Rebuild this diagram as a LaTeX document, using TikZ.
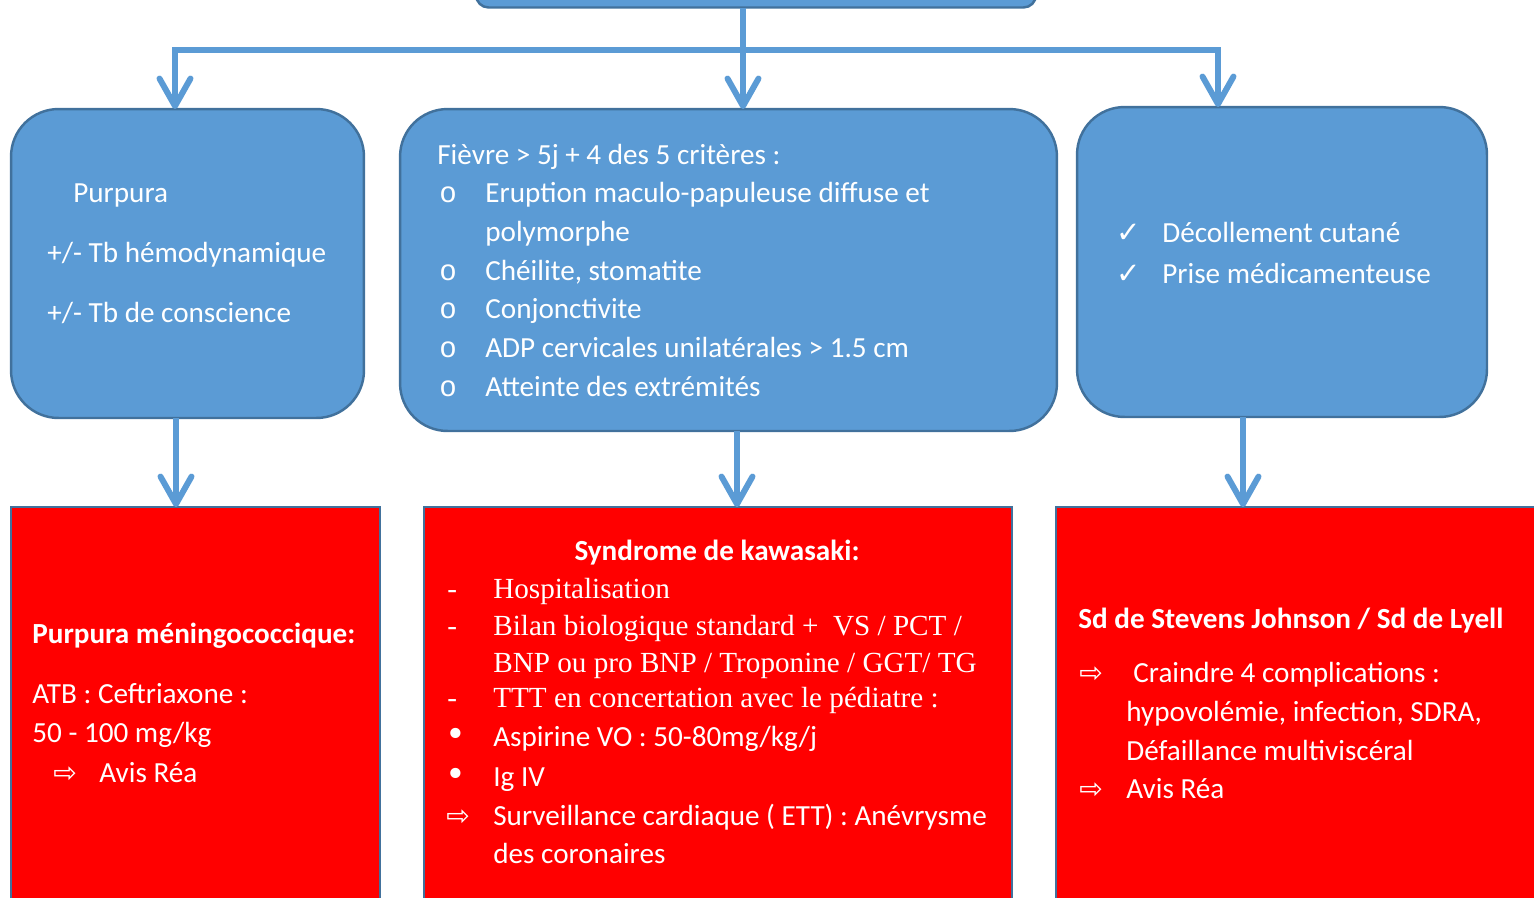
\documentclass[tikz,border=0pt]{standalone}
\usepackage{fontspec}
\setmainfont{Carlito}
\newfontfamily\timesfont{Liberation Serif}
\newfontfamily\symfont{DejaVu Sans}
\newfontfamily\courfont{Liberation Mono}
\usetikzlibrary{arrows.meta}

\begin{document}
\begin{tikzpicture}[x=0.02cm, y=-0.02cm,
        >={Straight Barb[length=0.55cm, width=0.62cm, round]},
        bluebox/.style={draw=bluedark, fill=blueface, line width=1.4pt, rounded corners=0.95cm, inner sep=0pt, outer sep=0pt},
        redbox/.style={draw=bluedark, fill=redface, line width=1.1pt, inner sep=0pt, outer sep=0pt},
        txt/.style={anchor=base west, inner sep=0pt, text=white, font=\fontsize{16.6}{20}\selectfont},
        conn/.style={->, draw=blueface, line width=3.4pt}]
        % -------- paramètres --------
        \definecolor{blueface}{HTML}{5B9BD5}
        \definecolor{bluedark}{HTML}{41719C}
        \definecolor{redface}{HTML}{FF0000}
        \useasboundingbox (0,0) rectangle (1534,897);
        \clip (0,0) rectangle (1534,897);

        % ======== boîtes bleues ========
        \node[bluebox, rounded corners=0.25cm, minimum width=11.2cm, minimum height=1.34cm] (top) at (756,-26) {};
        \node[bluebox, minimum width=7.06cm, minimum height=6.18cm] (purp) at (187.5,263.5) {};
        \node[bluebox, minimum width=13.14cm, minimum height=6.44cm] (kawa) at (728.5,270) {};
        \node[bluebox, minimum width=8.2cm, minimum height=6.2cm] (lyell) at (1282,262) {};

        % ======== boîtes rouges ========
        \node[redbox, minimum width=7.38cm, minimum height=9.06cm] (purpT) at (195.5,733.5) {};
        \node[redbox, minimum width=11.76cm, minimum height=9.06cm] (kawaT) at (718,733.5) {};
        \node[redbox, minimum width=10.88cm, minimum height=9.06cm] (lyellT) at (1328,733.5) {};

        % ======== flèches ========
        \coordinate (split) at (743,50);
        \coordinate (jl) at (175,50);
        \coordinate (jr) at (1218,50);
        \draw[conn] (top.south -| split) -- (split |- kawa.north);
        \draw[conn] (split) -| (jl |- purp.north);
        \draw[conn] (split) -| (jr |- lyell.north);

        \coordinate (dl) at (176,0);
        \coordinate (dm) at (737,0);
        \coordinate (dr) at (1243,0);
        \draw[conn] (dl |- purp.south) -- (dl |- purpT.north);
        \draw[conn] (dm |- kawa.south) -- (dm |- kawaT.north);
        \draw[conn] (dr |- lyell.south) -- (dr |- lyellT.north);

        % purpura
        \node[txt] (p1) at (73,202) {Purpura};
        \node[txt] (p2) at (47,262) {+/- Tb hémodynamique};
        \node[txt] (p3) at (47,322) {+/- Tb de conscience};

        % critères kawasaki
        \node[txt] (k0) at (437,164) {Fièvre > 5j + 4 des 5 critères :};
        \node[txt] (kb1) at (439,202.5) {\courfont o};
        \node[txt] (k1) at (485,202.5) {Eruption maculo-papuleuse diffuse et};
        \node[txt] (k1b) at (485,241.3) {polymorphe};
        \node[txt] (kb2) at (439,280) {\courfont o};
        \node[txt] (k2) at (485,280) {Chéilite, stomatite};
        \node[txt] (kb3) at (439,318.8) {\courfont o};
        \node[txt] (k3) at (485,318.8) {Conjonctivite};
        \node[txt] (kb4) at (439,357.5) {\courfont o};
        \node[txt] (k4) at (485,357.5) {ADP cervicales unilatérales > 1.5 cm};
        \node[txt] (kb5) at (439,396.3) {\courfont o};
        \node[txt] (k5) at (485,396.3) {Atteinte des extrémités};

        % lyell
        \node[txt] (lb1) at (1116,242) {\symfont ✓};
        \node[txt] (l1) at (1162,242) {Décollement cutané};
        \node[txt] (lb2) at (1116,283) {\symfont ✓};
        \node[txt] (l2) at (1162,283) {Prise médicamenteuse};

        % ======== conduites à tenir ========
        \node[txt, font=\fontsize{16.6}{20}\selectfont\bfseries] (pt0) at (32,643) {Purpura méningococcique:};
        \node[txt] (pt1) at (32,703) {ATB : Ceftriaxone :};
        \node[txt] (pt2) at (32,742) {50 - 100 mg/kg};
        \node[txt] (ptb) at (53,782) {\symfont\fontsize{16}{18}\selectfont ⇨};
        \node[txt] (pt3) at (99,782) {Avis Réa};

        \node[txt, anchor=base, font=\fontsize{16.6}{20}\selectfont\bfseries] (kt0) at (717,560) {Syndrome de kawasaki:};
        \node[txt] (ktb1) at (447,598) {\timesfont -};
        \node[txt] (kt1) at (493,598) {\timesfont Hospitalisation};
        \node[txt] (ktb2) at (447,635) {\timesfont -};
        \node[txt] (kt2) at (493,635) {\timesfont Bilan biologique standard +\ \ VS / PCT /};
        \node[txt] (kt2b) at (493,672) {\timesfont BNP ou pro BNP / Troponine / GGT/ TG};
        \node[txt] (ktb3) at (447,707) {\timesfont -};
        \node[txt] (kt3) at (493,707) {\timesfont TTT en concertation avec le pédiatre :};
        \node[txt] (ktb4) at (445,746) {\symfont\fontsize{20}{20}\selectfont •};
        \node[txt] (kt4) at (493,746) {Aspirine VO : 50-80mg/kg/j};
        \node[txt] (ktb5) at (445,786) {\symfont\fontsize{20}{20}\selectfont •};
        \node[txt] (kt5) at (493,786) {Ig IV};
        \node[txt] (ktb6) at (446,825) {\symfont\fontsize{16}{18}\selectfont ⇨};
        \node[txt] (kt6) at (493,825) {Surveillance cardiaque ( ETT) : Anévrysme};
        \node[txt] (kt6b) at (493,863) {des coronaires};

        \node[txt, font=\fontsize{16.6}{20}\selectfont\bfseries] (lt0) at (1078,628) {Sd de Stevens Johnson / Sd de Lyell};
        \node[txt] (ltb1) at (1079,682) {\symfont\fontsize{16}{18}\selectfont ⇨};
        \node[txt] (lt1) at (1133,682) {Craindre 4 complications :};
        \node[txt] (lt1b) at (1126,721) {hypovolémie, infection, SDRA,};
        \node[txt] (lt1c) at (1126,760) {Défaillance multiviscéral};
        \node[txt] (ltb2) at (1079,798) {\symfont\fontsize{16}{18}\selectfont ⇨};
        \node[txt] (lt2) at (1126,798) {Avis Réa};

\end{tikzpicture}
\end{document}
